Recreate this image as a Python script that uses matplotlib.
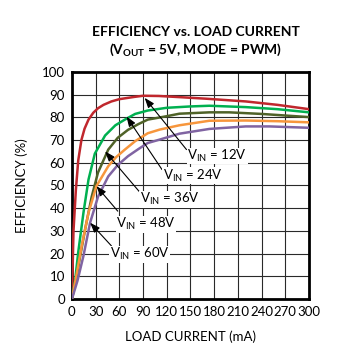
import numpy as np
import matplotlib
matplotlib.use('Agg')
from matplotlib import pyplot as plt

plt.rcParams['font.family'] = ['Lato', 'DejaVu Sans']
plt.rcParams['mathtext.fontset'] = 'custom'
plt.rcParams['mathtext.rm'] = 'Lato'
plt.rcParams['mathtext.bf'] = 'Lato:bold'

# load current (mA) and efficiency (%)
ma_12 = [0, 2, 5, 8, 12, 16, 21, 27, 33, 40, 50, 60, 79, 90, 110, 136, 170, 220, 260, 300]
eff_12 = [0, 30, 48, 61, 70, 75, 79, 82, 84, 85.5, 87, 88, 89, 89.5, 89.4, 88.9, 88.2, 87, 85.5, 83.6]

ma_24 = [0, 4, 8, 14.6, 21, 29, 42, 55, 67, 80, 96, 120, 150, 174, 220, 260, 300]
eff_24 = [0, 8, 20.6, 38, 52.6, 64, 72, 76.5, 79, 81.5, 83, 84.2, 84.8, 85.1, 84.5, 83.6, 82.2]

ma_36 = [0, 5, 10, 16.7, 25, 33, 46, 58, 71, 84, 96, 120, 136, 174, 199, 240, 270, 300]
eff_36 = [0, 8, 18, 30.7, 45, 55.7, 65.8, 71, 74.5, 77, 79, 80.5, 81.6, 82.2, 82.2, 81.5, 80.8, 80.1]

ma_48 = [0, 6, 12.4, 21, 31, 46, 56, 67, 80, 96, 111, 136, 174, 220, 260, 300]
eff_48 = [0, 11, 23.4, 38, 49.7, 58.5, 62.5, 65.8, 69.5, 73, 74.6, 76.5, 78.5, 78.6, 78.3, 77.8]

ma_60 = [0, 7, 14.6, 23, 33, 46, 58, 71, 84, 96, 111, 136, 174, 220, 250, 300]
eff_60 = [0, 8, 19, 33.6, 45, 54, 59, 62.9, 66, 68.7, 70.2, 72.8, 74.9, 76, 76, 75.4]

labels = ['12V', '24V', '36V', '48V', '60V']
colors = ['#c0272d', '#00b050', '#4f6228', '#f7963c', '#8064a2']
# arrow tip (on curve), arrow tail, label position
tips = [(92, 88.6), (69, 80.4), (42, 65), (31, 49.7), (23, 33.6)]
tails = [(145, 65.8), (114, 57), (86, 47), (58, 38.7), (50, 23.4)]
label_pos = [(146, 63), (115, 54.4), (86, 43.9), (56, 33), (48, 19.7)]

fig = plt.figure(figsize=(3.56, 3.56), dpi=100)
ax = fig.add_axes([0.202, 0.160, 0.666, 0.638])

series = [(ma_12, eff_12), (ma_24, eff_24), (ma_36, eff_36), (ma_48, eff_48), (ma_60, eff_60)]
for (x, y), c in zip(series, colors):
    ax.plot(x, y, color=c, lw=1.8, zorder=3)

for lab, tip, tail, pos in zip(labels, tips, tails, label_pos):
    ax.annotate('', xy=tip, xytext=tail,
                arrowprops=dict(arrowstyle='-|>,head_length=0.6,head_width=0.22',
                                color='black', lw=0.8, shrinkA=0, shrinkB=0), zorder=4)
    ax.text(pos[0], pos[1], r'V$_{\mathregular{IN}}$ = ' + lab, fontsize=9.5,
            ha='left', va='center', zorder=5,
            bbox=dict(fc='white', ec='none', pad=0.3))

ax.set_xlim(0, 300)
ax.set_ylim(0, 100)
ax.set_xticks(np.arange(0, 301, 30))
ax.set_yticks(np.arange(0, 101, 10))
ax.grid(True, color='#2a2a2a', lw=0.8)
ax.set_axisbelow(True)
ax.tick_params(length=0, labelsize=9.5, pad=5)
for s in ax.spines.values():
    s.set_linewidth(2)
ax.set_xlabel('LOAD CURRENT (mA)', fontsize=9.5, labelpad=9)
ax.set_ylabel('EFFICIENCY (%)', fontsize=9.5, labelpad=10)

fig.text(0.551, 0.910, 'EFFICIENCY vs. LOAD CURRENT', fontsize=10, fontweight='bold',
         ha='center', va='center')
fig.text(0.549, 0.861, r'(V$_{\mathbf{OUT}}$ = 5V, MODE = PWM)', fontsize=10,
         fontweight='bold', ha='center', va='center')

fig.savefig('out.png', dpi=100)
